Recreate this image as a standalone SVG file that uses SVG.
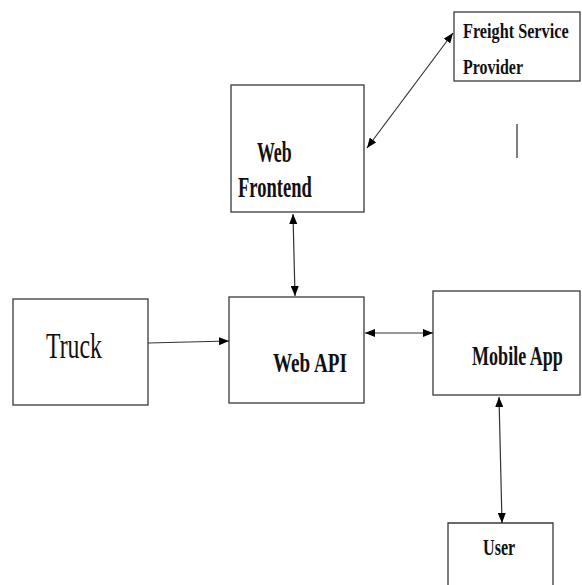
<svg xmlns="http://www.w3.org/2000/svg" width="582" height="585" viewBox="0 0 582 585">
  <style>
    .box { fill: #ffffff; stroke: #3a3a3a; stroke-width: 1.3; }
    .link { fill: none; stroke: #333333; stroke-width: 1.2; }
    .lbl { font-family: "Liberation Serif", "Times New Roman", serif; font-weight: bold; fill: #111111; }
    .plain { font-family: "Liberation Serif", "Times New Roman", serif; font-weight: normal; fill: #111111; }
  </style>
  <defs>
    <marker id="head" viewBox="0 0 10 8" refX="10" refY="4" markerWidth="10" markerHeight="8" markerUnits="userSpaceOnUse" orient="auto-start-reverse">
      <path d="M0,0 L10,4 L0,8 z" fill="#000000"/>
    </marker>
  </defs>
  <rect width="582" height="585" fill="#ffffff"/>

  <!-- labels use a condensed serif: horizontal squeeze via scale() -->
  <g id="freight-service-provider">
    <rect class="box" x="454" y="12" width="126" height="69"/>
    <text class="lbl" transform="translate(463,38) scale(0.8,1)" font-size="20" textLength="132" lengthAdjust="spacingAndGlyphs">Freight Service</text>
    <text class="lbl" transform="translate(463,74) scale(0.8,1)" font-size="20" textLength="75" lengthAdjust="spacingAndGlyphs">Provider</text>
  </g>

  <g id="web-frontend">
    <rect class="box" x="231" y="85" width="133" height="127"/>
    <text class="lbl" transform="translate(257,162) scale(0.62,1)" font-size="29" textLength="56" lengthAdjust="spacingAndGlyphs">Web</text>
    <text class="lbl" transform="translate(238,197) scale(0.62,1)" font-size="29" textLength="119" lengthAdjust="spacingAndGlyphs">Frontend</text>
  </g>

  <g id="truck">
    <rect class="box" x="13" y="299" width="135" height="106"/>
    <text class="plain" transform="translate(46,358) scale(0.65,1)" font-size="36" textLength="86" lengthAdjust="spacingAndGlyphs">Truck</text>
  </g>

  <g id="web-api">
    <rect class="box" x="229" y="297" width="135" height="106"/>
    <text class="lbl" transform="translate(273,372) scale(0.66,1)" font-size="28" textLength="112" lengthAdjust="spacingAndGlyphs">Web API</text>
  </g>

  <g id="mobile-app">
    <rect class="box" x="433" y="291" width="147" height="104"/>
    <text class="lbl" transform="translate(472,365) scale(0.64,1)" font-size="28" textLength="142" lengthAdjust="spacingAndGlyphs">Mobile App</text>
  </g>

  <g id="user">
    <path class="box" d="M448,590 L448,523 L553,523 L553,590"/>
    <text class="lbl" transform="translate(483,555) scale(0.7,1)" font-size="23" textLength="46" lengthAdjust="spacingAndGlyphs">User</text>
  </g>

  <g id="connectors">
    <line class="link" x1="367" y1="148" x2="453" y2="33" marker-start="url(#head)" marker-end="url(#head)"/>
    <line class="link" x1="293" y1="214" x2="295" y2="296" marker-start="url(#head)" marker-end="url(#head)"/>
    <line class="link" x1="148" y1="343" x2="229" y2="341" marker-end="url(#head)"/>
    <line class="link" x1="365" y1="333" x2="433" y2="333" marker-start="url(#head)" marker-end="url(#head)"/>
    <line class="link" x1="499" y1="397" x2="502" y2="523" marker-start="url(#head)" marker-end="url(#head)"/>
  </g>

  <!-- stray vertical tick right of the frontend -->
  <line x1="517" y1="124" x2="517" y2="158" stroke="#555555" stroke-width="1.5"/>
</svg>
